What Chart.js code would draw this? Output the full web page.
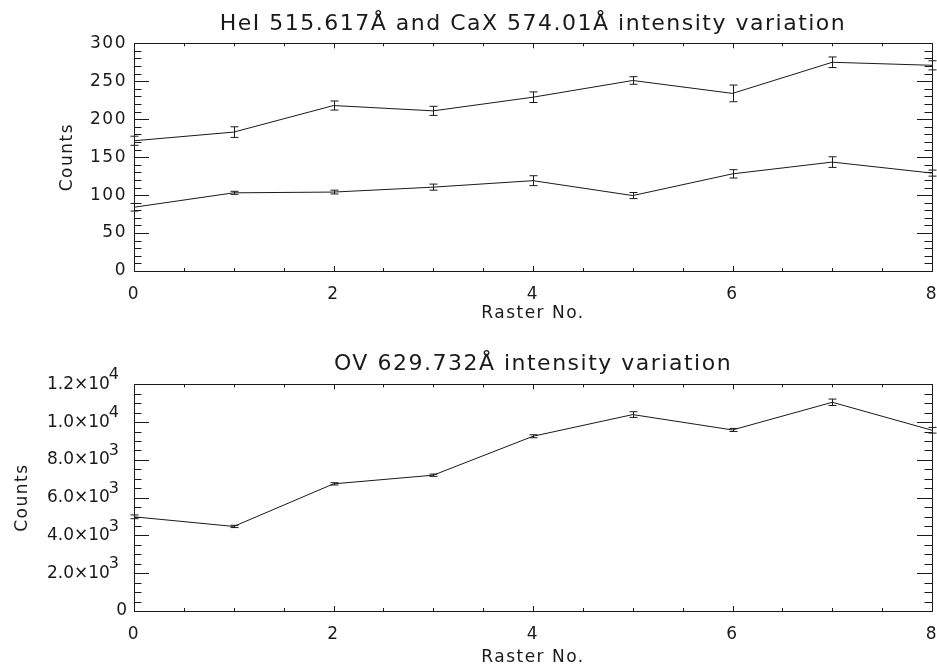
<!DOCTYPE html>
<html lang="en">
<head>
<meta charset="UTF-8">
<title>Intensity variation</title>
<script src="https://cdn.jsdelivr.net/npm/chart.js"></script>
<style>
    body { margin: 0; background: #fff; }
    .page { position: relative; width: 937px; height: 666px; }
    .panel { position: absolute; left: 0; width: 937px; height: 333px; }
    #top { top: 0; }
    #bottom { top: 333px; }
</style>
</head>
<body>
<div class="page">
    <div class="panel" id="top"><canvas id="heCaChart"></canvas></div>
    <div class="panel" id="bottom"><canvas id="ovChart"></canvas></div>
</div>

<script>
// raster positions
const rasters = [0, 1, 2, 3, 4, 5, 6, 7, 8];

// HeI / CaX counts (upper and lower curves) with 1-sigma errors
const upperCounts = [171.6, 183, 218, 211, 229, 251, 234, 275, 271];
const upperErr    = [6, 7, 6, 6, 7, 5, 11, 7, 6];
const lowerCounts = [84, 103, 104, 110.5, 119, 99.4, 128, 143.5, 129];
const lowerErr    = [5, 2, 2.5, 4, 6.5, 4, 5.5, 7, 4];

// OV counts
const ovCounts = [4985, 4476, 6730, 7189, 9250, 10397, 9584, 11048, 9568];
const ovErr    = [100, 60, 60, 60, 80, 150, 80, 170, 150];

const topTitle = 'HeI 515.617Å and CaX 574.01Å intensity variation';
const bottomTitle = 'OV 629.732Å intensity variation';

const FONT = "'DejaVu Sans', sans-serif";
const INK = '#1a1a1a';
const SPACING = '1.5px';

// wider, IDL-like lettering
const spacing = {
    id: 'spacing',
    beforeUpdate(chart) { chart.ctx.letterSpacing = SPACING; },
    beforeDraw(chart) { chart.ctx.letterSpacing = SPACING; }
};

// IDL-style frame: inward ticks on all four sides + error bars
const idlFrame = {
    id: 'idlFrame',
    afterDatasetsDraw(chart, args, opts) {
        const { ctx, chartArea: a, scales: { x, y } } = chart;
        ctx.save();
        ctx.strokeStyle = INK;
        ctx.lineWidth = 1;

        // error bars
        chart.data.datasets.forEach(ds => {
            if (!ds.errors) return;
            ds.data.forEach((pt, i) => {
                const px = Math.round(x.getPixelForValue(pt.x)) + 0.5;
                const lo = y.getPixelForValue(pt.y - ds.errors[i]);
                const hi = y.getPixelForValue(pt.y + ds.errors[i]);
                ctx.beginPath();
                ctx.moveTo(px, lo); ctx.lineTo(px, hi);
                ctx.moveTo(px - 4, lo); ctx.lineTo(px + 4, lo);
                ctx.moveTo(px - 4, hi); ctx.lineTo(px + 4, hi);
                ctx.stroke();
            });
        });

        // box
        ctx.strokeRect(Math.round(a.left) + 0.5, Math.round(a.top) + 0.5,
                       Math.round(a.right - a.left), Math.round(a.bottom - a.top));

        // ticks
        ctx.beginPath();
        for (let v = x.min; v <= x.max + 1e-9; v += opts.xMinor) {
            const px = Math.round(x.getPixelForValue(v)) + 0.5;
            const major = Math.abs(v / opts.xMajor - Math.round(v / opts.xMajor)) < 1e-6;
            const len = major ? 5 : 3;
            ctx.moveTo(px, a.bottom); ctx.lineTo(px, a.bottom - len);
            ctx.moveTo(px, a.top); ctx.lineTo(px, a.top + len);
        }
        for (let v = y.min; v <= y.max + 1e-9; v += opts.yMinor) {
            const py = Math.round(y.getPixelForValue(v)) + 0.5;
            const major = Math.abs(v / opts.yMajor - Math.round(v / opts.yMajor)) < 1e-6;
            const len = major ? 15 : 7.5;
            ctx.moveTo(a.left, py); ctx.lineTo(a.left + len, py);
            ctx.moveTo(a.right, py); ctx.lineTo(a.right - len, py);
        }
        ctx.stroke();
        ctx.restore();
    },
    // exponent-style labels (m.m×10^e) for the OV panel
    afterDraw(chart, args, opts) {
        if (!opts.sciLabels) return;
        const { ctx, chartArea: a, scales: { y } } = chart;
        ctx.save();
        ctx.fillStyle = INK;
        ctx.letterSpacing = '0px';
        ctx.textBaseline = 'middle';
        ctx.textAlign = 'right';
        y.ticks.forEach(t => {
            const py = y.getPixelForValue(t.value);
            if (t.value === 0) {
                ctx.font = '17px ' + FONT;
                ctx.fillText('0', a.left - 7, py);
                return;
            }
            const e = Math.floor(Math.log10(t.value));
            const m = (t.value / Math.pow(10, e)).toFixed(1);
            ctx.font = '16px ' + FONT;
            const supW = ctx.measureText(String(e)).width;
            const right = a.left - 15;
            ctx.fillText(String(e), right, py - 9);
            ctx.font = '17px ' + FONT;
            ctx.fillText(m + '×10', right - supW + 1, py);
        });
        ctx.restore();
    }
};

function makeChart(id, title, titlePad, datasets, yMax, yStep, yMinor, xAxisH, countsPad, sciLabels) {
    return new Chart(document.getElementById(id), {
        type: 'line',
        data: { datasets },
        options: {
            responsive: true,
            maintainAspectRatio: false,
            animation: false,
            layout: { padding: { left: 0, right: 5, top: 0, bottom: 0 } },
            elements: { point: { radius: 0 }, line: { borderWidth: 1, tension: 0 } },
            plugins: {
                legend: { display: false },
                tooltip: { enabled: false },
                title: {
                    display: true,
                    fullSize: false,
                    text: title,
                    color: INK,
                    font: { family: FONT, size: 22, weight: 'normal', lineHeight: 1.15 },
                    padding: titlePad
                },
                idlFrame: { xMajor: 2, xMinor: 0.5, yMajor: yStep, yMinor: yMinor, sciLabels }
            },
            scales: {
                x: {
                    type: 'linear',
                    min: 0, max: 8,
                    grid: { display: false, drawTicks: false },
                    border: { display: false },
                    ticks: {
                        stepSize: 2, padding: 13, color: INK, maxRotation: 0,
                        font: { family: FONT, size: 17 }
                    },
                    title: {
                        display: true, text: 'Raster No.', color: INK,
                        font: { family: FONT, size: 17, lineHeight: 1 },
                        padding: { top: 0, bottom: xAxisH.titleBottom }
                    },
                    afterFit(s) { s.height = xAxisH.h; s.paddingLeft = 0; s.paddingRight = 0; }
                },
                y: {
                    min: 0, max: yMax,
                    grid: { display: false, drawTicks: false },
                    border: { display: false },
                    ticks: {
                        display: !sciLabels,
                        stepSize: yStep, padding: 7, color: INK,
                        font: { family: FONT, size: 17 }
                    },
                    title: {
                        display: true, text: 'Counts', color: INK,
                        font: { family: FONT, size: 17, lineHeight: 1 },
                        padding: { top: countsPad, bottom: 0 }
                    },
                    afterFit(s) { s.width = 134; s.paddingTop = 0; s.paddingBottom = 0; }
                }
            }
        },
        plugins: [spacing, idlFrame]
    });
}

const pts = arr => rasters.map((r, i) => ({ x: r, y: arr[i] }));

makeChart('heCaChart', topTitle, { top: 12, bottom: 6 }, [
    { data: pts(upperCounts), errors: upperErr, borderColor: INK },
    { data: pts(lowerCounts), errors: lowerErr, borderColor: INK }
], 300, 50, 10, { h: 62, titleBottom: 11 }, 59, false);

makeChart('ovChart', bottomTitle, { top: 19, bottom: 7 }, [
    { data: pts(ovCounts), errors: ovErr, borderColor: INK }
], 12000, 2000, 500, { h: 55, titleBottom: 0 }, 14, true);
</script>
</body>
</html>
